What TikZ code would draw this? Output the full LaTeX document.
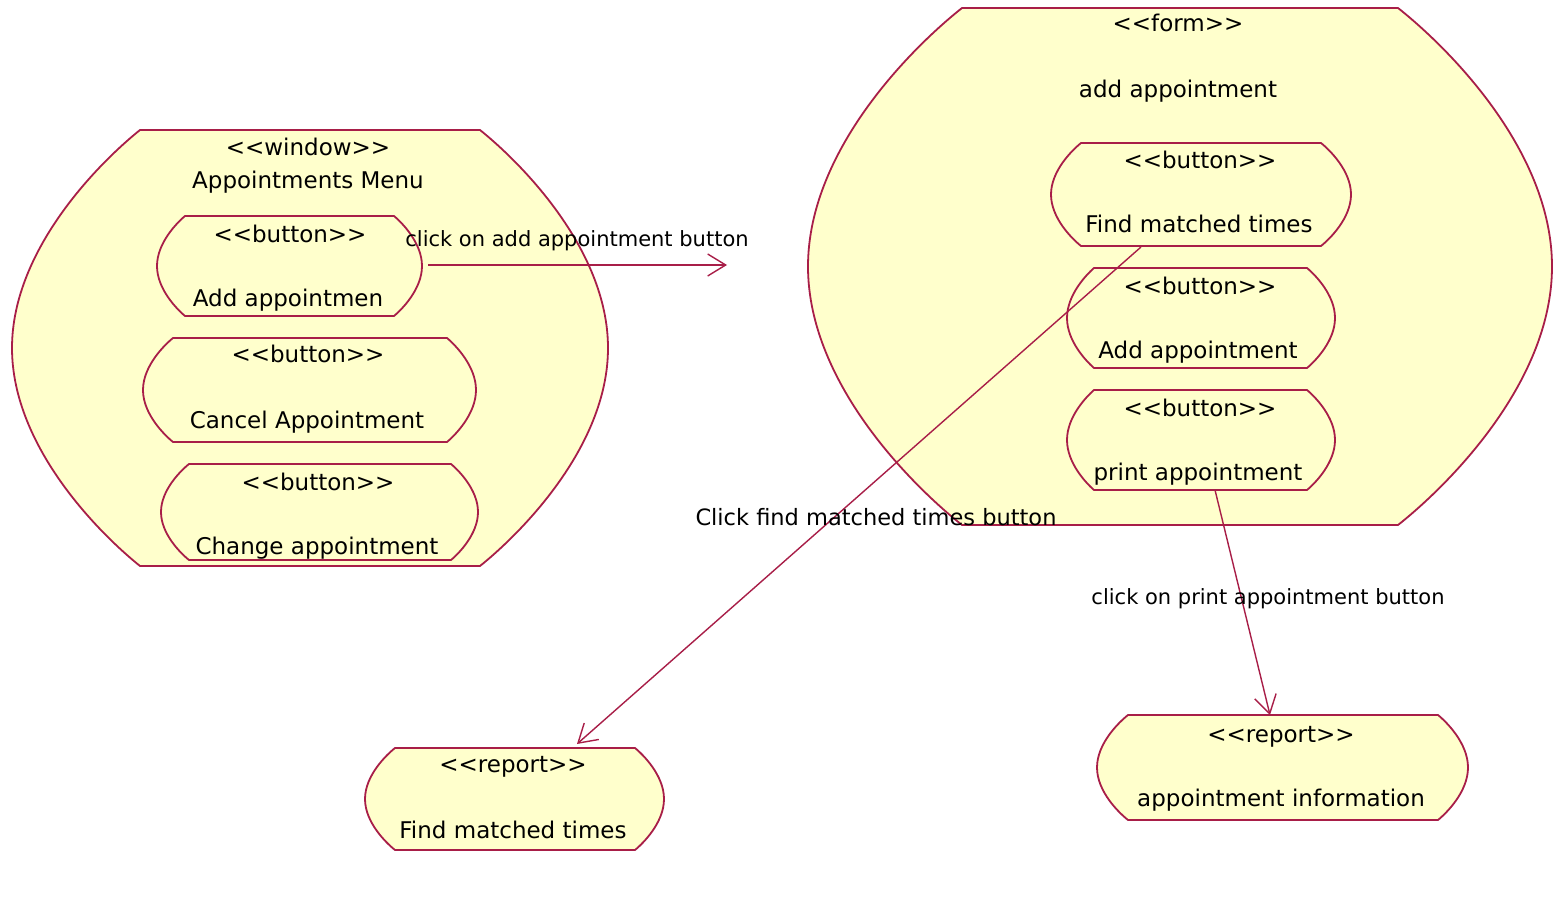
\documentclass[tikz,border=0pt]{standalone}
\usepackage{fontspec}
\setmainfont{DejaVu Sans}
\usetikzlibrary{arrows.meta}
\definecolor{edgecol}{RGB}{168,30,72}
\definecolor{papercol}{RGB}{255,255,204}
% #1 style, #2 x1, #3 x2, #4 top, #5 bottom, #6 left bulge, #7 right bulge
\newcommand\mybarrel[7][]{%
  \pgfmathsetmacro\bh{(#5-#4)/2}%
  \pgfmathsetmacro\my{-(#5+#4)/2}%
  \pgfmathsetmacro\ya{-#4-0.133*\bh}%
  \pgfmathsetmacro\yb{\my+0.463*\bh}%
  \pgfmathsetmacro\yc{\my-0.463*\bh}%
  \pgfmathsetmacro\yd{-#5+0.133*\bh}%
  \pgfmathsetmacro\xra{#3+0.283*#7}%
  \pgfmathsetmacro\xrb{#3+#7}%
  \pgfmathsetmacro\xla{#2-0.283*#6}%
  \pgfmathsetmacro\xlb{#2-#6}%
  \draw[shapeline,#1] (#2,-#4) -- (#3,-#4)
    .. controls (\xra,\ya) and (\xrb,\yb) .. (\xrb,\my)
    .. controls (\xrb,\yc) and (\xra,\yd) .. (#3,-#5)
    -- (#2,-#5)
    .. controls (\xla,\yd) and (\xlb,\yc) .. (\xlb,\my)
    .. controls (\xlb,\yb) and (\xla,\ya) .. (#2,-#4) -- cycle;%
}
\begin{document}
\begin{tikzpicture}[x=1pt,y=1pt,
  shapeline/.style={draw=edgecol,line width=1.8pt,fill=papercol,line join=round},
  nt/.style={font=\fontsize{23}{27}\selectfont,inner sep=0pt,anchor=base},
  lt/.style={font=\fontsize{21}{25}\selectfont,inner sep=0pt,anchor=base},
  conn/.style={draw=edgecol,line width=1.4pt,-{Straight Barb[length=18pt,width=22pt,line width=1.4pt]}}]
\useasboundingbox[fill=white] (0,0) rectangle (1553,-915);

% window
\mybarrel{140}{480}{130}{566}{128}{128}
\node[nt] (winst) at (308,-156) {{<}{<}window{>}{>}};
\node[nt] (winname) at (308,-189) {Appointments Menu};
% buttons in window
\mybarrel{185}{394}{216}{316}{28}{28}
\node[nt] (b1st) at (290,-242) {{<}{<}button{>}{>}};
\node[nt] (b1name) at (288,-306) {Add appointmen};
\mybarrel{173}{447}{338}{442}{30}{29}
\node[nt] (b2st) at (308,-362) {{<}{<}button{>}{>}};
\node[nt] (b2name) at (307,-428) {Cancel Appointment};
\mybarrel{189}{451}{464}{560}{28}{27}
\node[nt] (b3st) at (318,-490) {{<}{<}button{>}{>}};
\node[nt] (b3name) at (317,-554) {Change appointment};

% form
\mybarrel{962}{1398}{8}{525}{154}{154}
\node[nt] (formst) at (1178,-32) {{<}{<}form{>}{>}};
\node[nt] (formname) at (1178,-98) {add appointment};
\mybarrel{1081}{1321}{143}{246}{30}{30}
\node[nt] (f1st) at (1200,-168) {{<}{<}button{>}{>}};
\node[nt] (f1name) at (1199,-232) {Find matched times};
\mybarrel{1094}{1307}{268}{368}{27}{28}
\node[nt] (f2st) at (1200,-294) {{<}{<}button{>}{>}};
\node[nt] (f2name) at (1198,-358) {Add appointment};
\mybarrel{1094}{1307}{390}{490}{27}{28}
\node[nt] (f3st) at (1200,-416) {{<}{<}button{>}{>}};
\node[nt] (f3name) at (1198,-480) {print appointment};

% reports
\mybarrel{395}{635}{748}{850}{30}{29}
\node[nt] (r1st) at (513,-772) {{<}{<}report{>}{>}};
\node[nt] (r1name) at (513,-838) {Find matched times};
\mybarrel{1128}{1438}{715}{820}{31}{30}
\node[nt] (r2st) at (1281,-742) {{<}{<}report{>}{>}};
\node[nt] (r2name) at (1281,-806) {appointment information};

% connector ends
\coordinate (c1s) at (428,-265);
\coordinate (c1e) at (727,-265);
\coordinate (c2s) at (1141,-247);
\coordinate (c2e) at (577,-744);
\coordinate (c3s) at (1215,-490);
\coordinate (c3e) at (1270,-715);
\draw[conn] (c1s) -- (c1e);
\draw[conn] (c2s) -- (c2e);
\draw[conn] (c3s) -- (c3e);

\node[lt] (l1) at (577,-246) {click on add appointment button};
\node[lt,font=\fontsize{22.5}{26}\selectfont] (l2) at (876,-525) {Click find matched times button};
\node[lt] (l3) at (1268,-604) {click on print appointment button};
\end{tikzpicture}
\end{document}
